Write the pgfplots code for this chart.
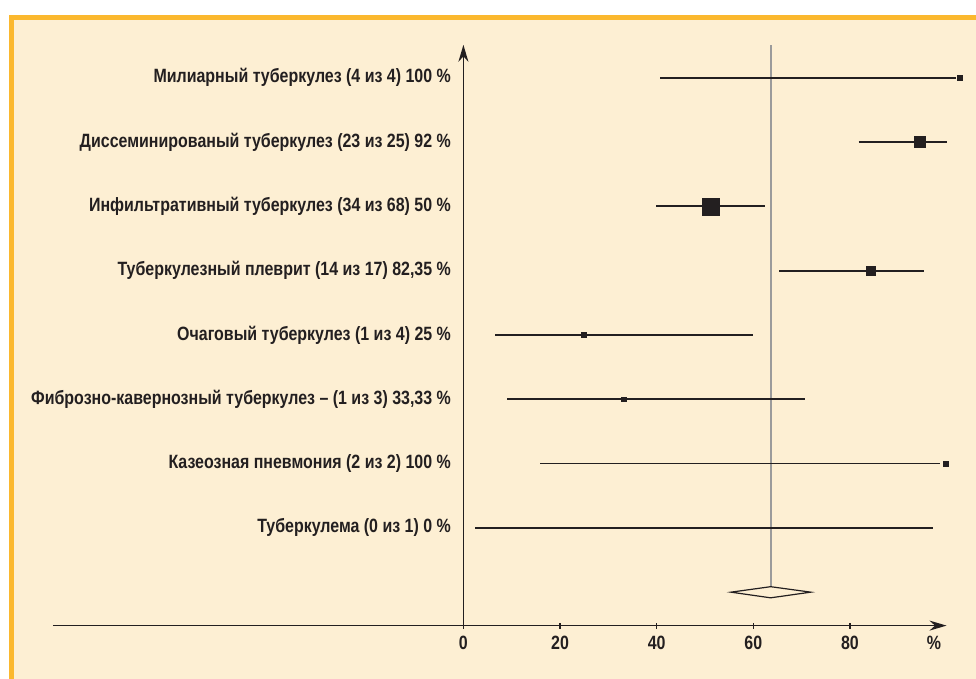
\documentclass[border=0pt]{standalone}
\usepackage{fontspec}
\setmainfont{Liberation Sans}[FakeStretch=0.83]
\usepackage{pgfplots}
\pgfplotsset{compat=1.18}
\usetikzlibrary{arrows.meta}
\definecolor{bg}{HTML}{FDEFD3}
\definecolor{orng}{HTML}{FBB82E}
\definecolor{ink}{HTML}{231F20}
\definecolor{gline}{HTML}{9B9B9B}
\pgfdeclarelayer{bgl}
\pgfsetlayers{bgl,main}
\newcommand{\lf}{\fontsize{19.3}{22}\selectfont\bfseries}
\begin{document}
\begin{tikzpicture}[font=\lf]
\begin{axis}[
  x=4.83bp, y=64.3bp,
  xmin=-85, xmax=100, ymin=-0.52, ymax=8.51,
  axis x line=bottom, axis y line=middle,
  clip=false,
  axis line style={ink, line width=1.5bp},
  x axis line style={-{Stealth[length=17bp,width=10bp]}},
  y axis line style={-{Stealth[length=17bp,width=10bp]}},
  xtick={0,20,40,60,80},
  hide obscured x ticks=false,
  ytick={1,2,3,4,5,6,7,8},
  yticklabels={
    {Туберкулема (0 из 1) 0 \%},
    {Казеозная пневмония (2 из 2) 100 \%},
    {Фиброзно-кавернозный туберкулез – (1 из 3) 33,33 \%},
    {Очаговый туберкулез (1 из 4) 25 \%},
    {Туберкулезный плеврит (14 из 17) 82,35 \%},
    {Инфильтративный туберкулез (34 из 68) 50 \%},
    {Диссеминированый туберкулез (23 из 25) 92 \%},
    {Милиарный туберкулез (4 из 4) 100 \%}},
  y tick style={draw=none},
  major tick length=6bp,
  tick align=center,
  x tick style={ink, line width=1.2bp},
  tick label style={font=\lf, text=ink},
  xticklabel style={yshift=-4bp},
  yticklabel style={anchor=east, xshift=-6bp},
  /pgf/number format/assume math mode=true,
]
\coordinate (A) at (axis cs:-95.92,-1.37);
\coordinate (A2) at (axis cs:-95.92,-1.337);
\coordinate (B) at (axis cs:106.1,9.207);
\coordinate (C) at (axis cs:106.2,-1.37);
\coordinate (O1) at (axis cs:-94.06,8.974);
\coordinate (O2) at (axis cs:-93.02,8.896);
\node[anchor=north, text=ink, font=\lf, yshift=-7bp] at (axis cs:97.4,-0.52) {\%};
% reference line
\addplot[gline, line width=2bp] coordinates {(63.6,0.085) (63.6,8.51)};
% confidence intervals
\addplot[ink, line width=1.9bp] coordinates {(40.7,8) (102,8)};
\addplot[ink, line width=1.9bp] coordinates {(81.8,7) (100.1,7)};
\addplot[ink, line width=1.9bp] coordinates {(39.9,6) (62.5,6)};
\addplot[ink, line width=1.9bp] coordinates {(65.4,5) (95.4,5)};
\addplot[ink, line width=1.9bp] coordinates {(6.6,4) (60,4)};
\addplot[ink, line width=1.9bp] coordinates {(9.1,3) (70.7,3)};
\addplot[ink, line width=1.9bp] coordinates {(15.9,2) (98.7,2)};
\addplot[ink, line width=1.9bp] coordinates {(2.4,1) (97.3,1)};
% point estimates
\addplot[only marks, mark=square*, mark size=2.7bp, ink] coordinates {(102.7,8)};
\addplot[only marks, mark=square*, mark size=5.5bp, ink] coordinates {(94.4,7)};
\addplot[only marks, mark=square*, mark size=8.5bp, ink] coordinates {(51.1,6)};
\addplot[only marks, mark=square*, mark size=4.5bp, ink] coordinates {(84.3,5)};
\addplot[only marks, mark=square*, mark size=2.2bp, ink] coordinates {(24.9,4)};
\addplot[only marks, mark=square*, mark size=2.2bp, ink] coordinates {(33.2,3)};
\addplot[only marks, mark=square*, mark size=2.2bp, ink] coordinates {(99.8,2)};
% pooled diamond
\addplot[draw=ink, fill=bg, line width=1.2bp] coordinates {(55.4,0) (63.6,0.085) (71.9,0) (63.6,-0.088)} -- cycle;
\end{axis}
\begin{pgfonlayer}{bgl}
\fill[white] (A) rectangle (B);
\fill[orng] (O1) rectangle (C);
\fill[bg] (O2) rectangle (C);
\end{pgfonlayer}
\pgfresetboundingbox
\path[use as bounding box] (A2) rectangle (B);
\end{tikzpicture}
\end{document}
